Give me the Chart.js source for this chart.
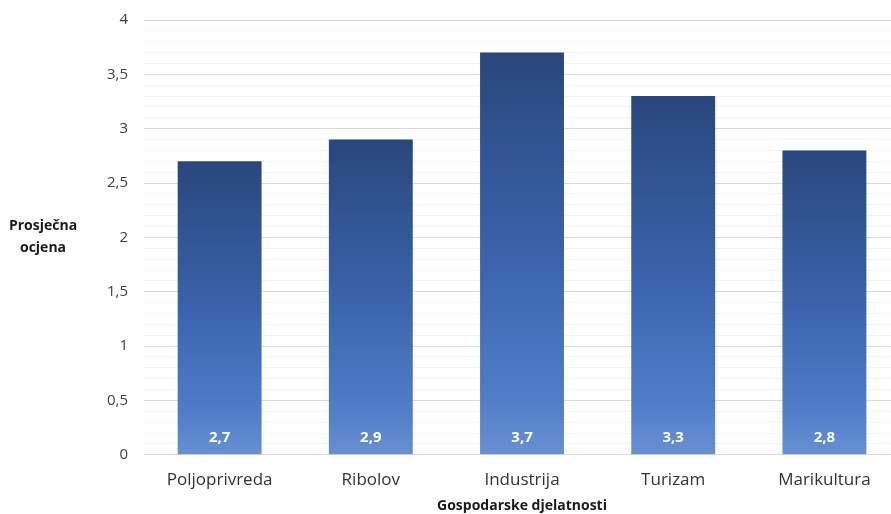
<!DOCTYPE html>
<html>
<head>
<meta charset="utf-8">
<script src="https://cdn.jsdelivr.net/npm/chart.js@4/dist/chart.umd.min.js"></script>
<style>
  html, body { margin: 0; padding: 0; background: #fff; overflow: hidden; }
  #wrap { width: 900px; height: 519px; margin-top: -5px; }
</style>
</head>
<body>
<div id="wrap"><canvas id="myChart" width="900" height="519"></canvas></div>
<script>
// podaci s grafikona
const djelatnosti = ['Poljoprivreda', 'Ribolov', 'Industrija', 'Turizam', 'Marikultura']
const ocjene = [2.7, 2.9, 3.7, 3.3, 2.8]
const yNaslov = ['Prosječna', 'ocjena']
const xNaslov = 'Gospodarske djelatnosti'

const font = '"Open Sans", sans-serif'

function zarez(v) {
  return String(v).replace('.', ',')
}

// gradijent za svaki stupac posebno (tamno gore, svjetlije dolje)
function boja(context) {
  const chart = context.chart
  const area = chart.chartArea
  if (!area || context.raw === undefined) return '#3a63ab'
  const y = chart.scales.y
  const top = y.getPixelForValue(context.raw)
  const base = y.getPixelForValue(0)
  const g = chart.ctx.createLinearGradient(0, top, 0, base)
  g.addColorStop(0, '#29477c')
  g.addColorStop(0.5, '#3a63ab')
  g.addColorStop(0.85, '#507cc8')
  g.addColorStop(1, '#6890d2')
  return g
}

// vrijednosti unutar stupca, pri dnu
const oznake = {
  id: 'oznake',
  afterDatasetsDraw(chart) {
    const ctx = chart.ctx
    const meta = chart.getDatasetMeta(0)
    ctx.save()
    ctx.fillStyle = '#ffffff'
    ctx.font = 'bold 15px ' + font
    ctx.textAlign = 'center'
    ctx.textBaseline = 'middle'
    meta.data.forEach((bar, i) => {
      ctx.fillText(zarez(ocjene[i]), bar.x, bar.base - 17)
    })
    ctx.restore()
  }
}

// vodoravni naslov y osi
const yTitle = {
  id: 'yTitle',
  afterDraw(chart) {
    const ctx = chart.ctx
    const mid = (chart.chartArea.top + chart.chartArea.bottom) / 2
    ctx.save()
    ctx.fillStyle = '#1a1a1a'
    ctx.font = 'bold 14px ' + font
    ctx.textAlign = 'center'
    ctx.textBaseline = 'middle'
    ctx.fillText(yNaslov[0], 43, mid - 11)
    ctx.fillText(yNaslov[1], 43, mid + 11)
    ctx.restore()
  }
}

new Chart(document.getElementById('myChart'), {
  type: 'bar',
  data: {
    labels: djelatnosti,
    datasets: [{
      label: 'Prosječna ocjena',
      data: ocjene,
      backgroundColor: boja,
      borderWidth: 0,
      barPercentage: 0.555,
      categoryPercentage: 1
    }]
  },
  options: {
    responsive: false,
    animation: false,
    layout: { padding: { left: 91, top: 0, right: 0, bottom: 0 } },
    plugins: {
      legend: { display: false },
      tooltip: { enabled: false }
    },
    scales: {
      x: {
        grid: { display: false },
        border: { color: '#d9d9d9' },
        ticks: { color: '#333', font: { family: font, size: 17 }, padding: 7 },
        title: {
          display: true,
          text: xNaslov,
          color: '#1a1a1a',
          font: { family: font, size: 14, weight: 'bold' },
          padding: { top: 0, bottom: 0 }
        }
      },
      y: {
        min: 0,
        max: 4,
        border: { display: false },
        grid: {
          color: c => (Math.round(c.tick.value * 10) % 5 === 0 ? '#d9d9d9' : '#f3f3f3'),
          drawTicks: false
        },
        ticks: {
          stepSize: 0.1,
          autoSkip: false,
          color: '#404040',
          font: { family: font, size: 15 },
          padding: 16,
          callback: v => (Math.round(v * 10) % 5 === 0 ? zarez(Math.round(v * 10) / 10) : '')
        }
      }
    }
  },
  plugins: [oznake, yTitle]
})
</script>
</body>
</html>
